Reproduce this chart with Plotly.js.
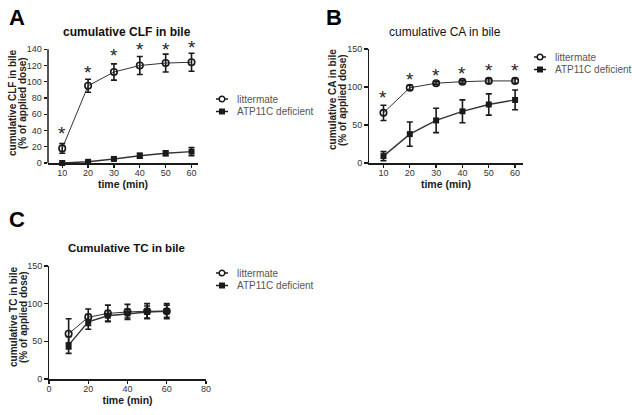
<!DOCTYPE html>
<html><head><meta charset="utf-8">
<script src="https://cdn.plot.ly/plotly-3.0.1.min.js"></script>
<style>html,body{margin:0;padding:0;background:#fff}#chart{width:632px;height:415px}</style>
</head><body><div id="chart"></div>
<script>
// ---- data ----
const timeMin = [10, 20, 30, 40, 50, 60];
const seriesNames = ['littermate', 'ATP11C deficient'];

// Panel A: cumulative CLF in bile
const clfLittermate = [18, 95, 112, 120, 123, 124];
const clfLittermateErr = [6, 8, 10, 11, 11, 11];
const clfDeficient = [0, 1.5, 5, 9, 12, 14];
const clfDeficientErr = [0.5, 1, 1.5, 3, 3, 5];
const clfStarY = [42, 118, 138, 146, 146, 148];
const clfTicks = [0, 20, 40, 60, 80, 100, 120, 140];

// Panel B: cumulative CA in bile
const caLittermate = [66, 99, 105, 107, 108, 108];
const caLittermateErr = [10, 3, 2, 2, 3, 3];
const caDeficient = [9, 38, 56, 68, 77, 83];
const caDeficientErr = [6, 16, 16, 15, 14, 13];
const caStarY = [93, 117, 122, 125, 128, 128];

// Panel C: cumulative TC in bile
const tcLittermate = [60, 82, 87, 89, 90, 90];
const tcLittermateErr = [20, 11, 11, 10, 10, 10];
const tcDeficient = [45, 76, 84, 87, 89, 90];
const tcDeficientErr = [11, 10, 7, 6, 8, 8];

const FONT = 'Liberation Sans, Arial, sans-serif';
const DARK = '#1a1a1a';
const W = 632, H = 415;

function pair(xa, ya, lit, litErr, def, defErr) {
  const common = {x: timeMin, xaxis: xa, yaxis: ya, mode: 'lines+markers', type: 'scatter', cliponaxis: false, showlegend: false};
  return [
    Object.assign({}, common, {name: seriesNames[0], y: lit,
      error_y: {type: 'data', array: litErr, visible: true, color: DARK, thickness: 1.6, width: 3},
      line: {color: '#333', width: 1},
      marker: {symbol: 'circle-open', size: 6.5, color: DARK, line: {width: 1.6, color: DARK}}}),
    Object.assign({}, common, {name: seriesNames[1], y: def,
      error_y: {type: 'data', array: defErr, visible: true, color: DARK, thickness: 1.6, width: 3},
      line: {color: '#333', width: 1.4},
      marker: {symbol: 'square', size: 6, color: DARK}})
  ];
}
function starAnns(xa, ya, ys) {
  return ys.map((v, i) => ({x: timeMin[i], y: v, xref: xa, yref: ya, text: '*', showarrow: false,
    xanchor: 'center', yanchor: 'middle', yshift: -5, font: {family: FONT, size: 19, color: '#222'}}));
}

const data = [
  ...pair('x', 'y', clfLittermate, clfLittermateErr, clfDeficient, clfDeficientErr),
  ...pair('x2', 'y2', caLittermate, caLittermateErr, caDeficient, caDeficientErr),
  ...pair('x3', 'y3', tcLittermate, tcLittermateErr, tcDeficient, tcDeficientErr)
];

const axBase = {showgrid: false, zeroline: false, showline: true, linecolor: DARK, linewidth: 1.5,
  ticks: 'outside', ticklen: 3.5, tickwidth: 1.3, tickcolor: DARK, mirror: false,
  tickfont: {family: FONT, size: 9, color: '#333'}, fixedrange: true};
function xax(d, range, dtick, tick0, anchor) {
  return Object.assign({}, axBase, {domain: [d[0] / W, d[1] / W], range: range, dtick: dtick, tick0: tick0, anchor: anchor,
    ticklabelstandoff: -3,
    title: {text: '<b>time (min)</b>', font: {family: FONT, size: 10.5, color: DARK}, standoff: 0}});
}
function yax(d, range, dtick, anchor) {
  return Object.assign({}, axBase, {domain: [1 - d[1] / H, 1 - d[0] / H], range: range, dtick: dtick, anchor: anchor});
}
function paperText(text, px, py, size, extra) {
  return Object.assign({text: text, x: px / W, y: 1 - py / H, xref: 'paper', yref: 'paper', xanchor: 'center', yanchor: 'middle',
    showarrow: false, font: {family: FONT, size: size, color: '#111'}}, extra || {});
}
function yTitle(text, px, py) {
  const f = {family: FONT, size: 10, color: '#222'};
  return [
    paperText('<b>' + text + '</b>', px - 5, py, 10, {textangle: -90, font: f}),
    paperText('<b>(% of applied dose)</b>', px + 5, py, 10, {textangle: -90, font: f})
  ];
}
// hand-drawn legend (marker centre px, first row centre px)
const legShapes = [], legAnns = [];
function legendAt(mx, my) {
  const gap = 12.5;
  seriesNames.forEach((nm, i) => {
    const yy = my + i * gap;
    legShapes.push({type: 'line', xref: 'paper', yref: 'paper', x0: (mx - 6) / W, x1: (mx + 6) / W, y0: 1 - yy / H, y1: 1 - yy / H, line: {color: DARK, width: 1.5}});
    if (i === 0) {
      legShapes.push({type: 'circle', xref: 'paper', yref: 'paper', x0: (mx - 2.8) / W, x1: (mx + 2.8) / W, y0: 1 - (yy + 2.8) / H, y1: 1 - (yy - 2.8) / H, fillcolor: '#fff', line: {color: DARK, width: 1.5}});
    } else {
      legShapes.push({type: 'rect', xref: 'paper', yref: 'paper', x0: (mx - 3) / W, x1: (mx + 3) / W, y0: 1 - (yy + 3) / H, y1: 1 - (yy - 3) / H, fillcolor: DARK, line: {color: DARK, width: 0}});
    }
    legAnns.push({text: nm, x: (mx + 13) / W, y: 1 - yy / H, xref: 'paper', yref: 'paper', xanchor: 'left', yanchor: 'middle', showarrow: false, font: {family: FONT, size: 10, color: '#555'}});
  });
}
legendAt(222, 99);
legendAt(540, 57);
legendAt(222, 273);

// Panel A: the y range reaches above 140 so the significance stars above the last tick can be placed in data units;
// the visible axis line stops at the last tick, as in the original.
const yA = yax([33, 163], [0, 160], 20, 'x');
yA.showline = false;
yA.tickvals = clfTicks;
const shapesAxisA = [{type: 'line', xref: 'x domain', yref: 'y', x0: 0, x1: 0, y0: 0, y1: clfTicks[clfTicks.length - 1], line: {color: DARK, width: 1.5}}];

const layout = {
  width: W, height: H, margin: {l: 0, r: 0, t: 0, b: 0}, paper_bgcolor: '#fff', plot_bgcolor: '#fff',
  showlegend: false,
  xaxis: xax([48, 198], [4.5, 62.5], 10, 10, 'y'),
  yaxis: yA,
  xaxis2: xax([369, 523], [4.5, 63], 10, 10, 'y2'),
  yaxis2: yax([49, 163], [0, 150], 50, 'x2'),
  xaxis3: xax([49, 206], [0, 80], 20, 0, 'y3'),
  yaxis3: yax([266, 379], [0, 150], 50, 'x3'),
  shapes: [...shapesAxisA, ...legShapes],
  annotations: [
    paperText('<b>A</b>', 17, 17, 22, {font: {family: FONT, size: 22, color: '#000'}}),
    paperText('<b>B</b>', 334, 17, 22, {font: {family: FONT, size: 22, color: '#000'}}),
    paperText('<b>C</b>', 17, 219, 22, {font: {family: FONT, size: 22, color: '#000'}}),
    paperText('<b>cumulative CLF in bile</b>', 127, 32, 12),
    paperText('cumulative CA in bile', 445, 32, 12),
    paperText('<b>Cumulative TC in bile</b>', 127, 248, 11.5),
    ...yTitle('cumulative CLF in bile', 17, 103),
    ...yTitle('cumulative CA in bile', 337, 100),
    ...yTitle('cumulative TC in bile', 18, 317),
    ...starAnns('x', 'y', clfStarY),
    ...starAnns('x2', 'y2', caStarY),
    ...legAnns
  ]
};

Plotly.newPlot('chart', data, layout, {displayModeBar: false, staticPlot: true});
</script></body></html>
